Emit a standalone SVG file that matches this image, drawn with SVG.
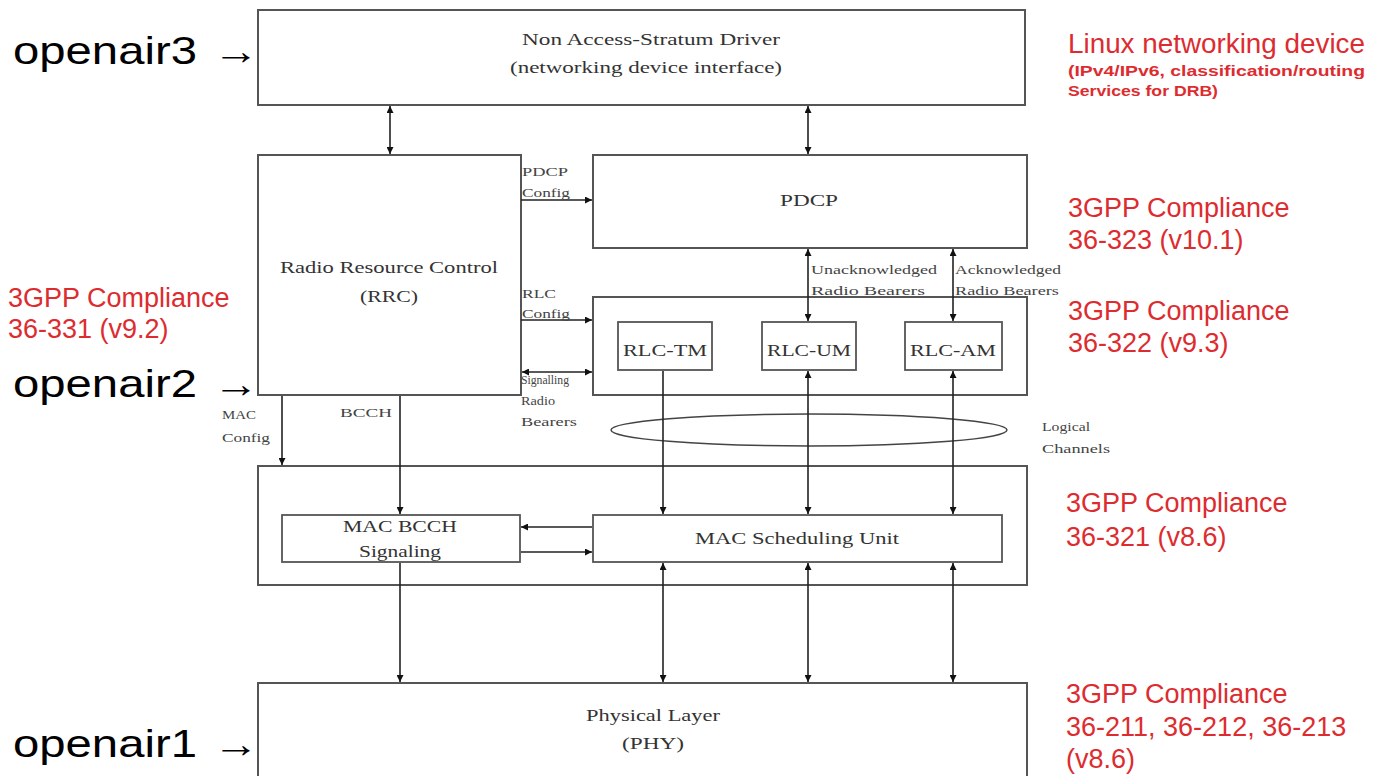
<svg xmlns="http://www.w3.org/2000/svg" width="1373" height="776" viewBox="0 0 1373 776">
<style>
.box{fill:#fff;stroke:#555;stroke-width:2}
.ibox{fill:#fff;stroke:#555;stroke-width:1.8}
.t{font-family:"Liberation Serif",serif;fill:#333;font-size:17px;text-anchor:middle}
.s{font-family:"Liberation Serif",serif;fill:#444;font-size:13.5px}
.c{stroke:#222;stroke-width:1.6;fill:none}
.red{font-family:"Liberation Sans",Arial,sans-serif;fill:#dd2c30;font-size:27px}
.redb{font-family:"Liberation Sans",Arial,sans-serif;fill:#dd2c30;font-size:15px;font-weight:bold}
.oa{font-family:"Liberation Sans",Arial,sans-serif;fill:#000;font-size:39px}
</style>
<defs>
<marker id="ah" viewBox="0 0 10 10" refX="10" refY="5" markerWidth="7" markerHeight="7" markerUnits="userSpaceOnUse" orient="auto-start-reverse">
<path d="M0,0 L10,5 L0,10 z" fill="#111"/>
</marker>
</defs>
<rect width="1373" height="776" fill="#fff"/>

<g id="nas">
<rect class="box" x="258" y="10" width="767" height="95"/>
<text class="t" x="651" y="45" textLength="258" lengthAdjust="spacingAndGlyphs">Non Access-Stratum Driver</text>
<text class="t" x="646" y="73" textLength="272" lengthAdjust="spacingAndGlyphs">(networking device interface)</text>
</g>
<g id="rrc">
<rect class="box" x="258" y="155" width="263" height="240"/>
<text class="t" x="389" y="273" textLength="218" lengthAdjust="spacingAndGlyphs">Radio Resource Control</text>
<text class="t" x="389" y="302" textLength="58" lengthAdjust="spacingAndGlyphs">(RRC)</text>
</g>
<g id="pdcp">
<rect class="box" x="593" y="155" width="434" height="93"/>
<text class="t" x="809" y="206" textLength="58" lengthAdjust="spacingAndGlyphs">PDCP</text>
</g>
<g id="rlc">
<rect class="box" x="593" y="297" width="434" height="98"/>
</g>
<g id="rlc-tm">
<rect class="ibox" x="618" y="322" width="94" height="48"/>
<text class="t" x="665" y="356" textLength="84" lengthAdjust="spacingAndGlyphs">RLC-TM</text>
</g>
<g id="rlc-um">
<rect class="ibox" x="762" y="322" width="94" height="48"/>
<text class="t" x="809" y="356" textLength="84" lengthAdjust="spacingAndGlyphs">RLC-UM</text>
</g>
<g id="rlc-am">
<rect class="ibox" x="905" y="322" width="97" height="48"/>
<text class="t" x="953" y="356" textLength="86" lengthAdjust="spacingAndGlyphs">RLC-AM</text>
</g>
<g id="mac">
<rect class="box" x="258" y="466" width="769" height="119"/>
</g>
<g id="mac-bcch">
<rect class="ibox" x="282" y="515" width="238" height="47"/>
<text class="t" x="400" y="532" textLength="114" lengthAdjust="spacingAndGlyphs">MAC BCCH</text>
<text class="t" x="400" y="557" textLength="82" lengthAdjust="spacingAndGlyphs">Signaling</text>
</g>
<g id="mac-sched">
<rect class="ibox" x="593" y="515" width="409" height="47"/>
<text class="t" x="797" y="544" textLength="204" lengthAdjust="spacingAndGlyphs">MAC Scheduling Unit</text>
</g>
<g id="phy">
<rect class="box" x="258" y="683" width="769" height="100"/>
<text class="t" x="653" y="721" textLength="134" lengthAdjust="spacingAndGlyphs">Physical Layer</text>
<text class="t" x="653" y="749" textLength="62" lengthAdjust="spacingAndGlyphs">(PHY)</text>
</g>
<g id="logical-channels">
<ellipse cx="809" cy="430" rx="198" ry="16" fill="none" stroke="#444" stroke-width="1.5"/>
</g>

<g id="connectors">
<line class="c" x1="390" y1="106" x2="390" y2="154" marker-start="url(#ah)" marker-end="url(#ah)"/>
<line class="c" x1="808" y1="106" x2="808" y2="154" marker-start="url(#ah)" marker-end="url(#ah)"/>
<line class="c" x1="521" y1="200" x2="592" y2="200" marker-end="url(#ah)"/>
<line class="c" x1="521" y1="320" x2="592" y2="320" marker-end="url(#ah)"/>
<line class="c" x1="522" y1="372" x2="592" y2="372" marker-start="url(#ah)" marker-end="url(#ah)"/>
<line class="c" x1="808" y1="249" x2="808" y2="321" marker-start="url(#ah)" marker-end="url(#ah)"/>
<line class="c" x1="953" y1="249" x2="953" y2="321" marker-start="url(#ah)" marker-end="url(#ah)"/>
<line class="c" x1="663" y1="371" x2="663" y2="514" marker-end="url(#ah)"/>
<line class="c" x1="808" y1="371" x2="808" y2="514" marker-start="url(#ah)" marker-end="url(#ah)"/>
<line class="c" x1="953" y1="371" x2="953" y2="514" marker-start="url(#ah)" marker-end="url(#ah)"/>
<line class="c" x1="282" y1="396" x2="282" y2="465" marker-end="url(#ah)"/>
<line class="c" x1="400" y1="396" x2="400" y2="514" marker-end="url(#ah)"/>
<line class="c" x1="592" y1="527" x2="521" y2="527" marker-end="url(#ah)"/>
<line class="c" x1="521" y1="552" x2="592" y2="552" marker-end="url(#ah)"/>
<line class="c" x1="400" y1="563" x2="400" y2="682" marker-end="url(#ah)"/>
<line class="c" x1="663" y1="563" x2="663" y2="682" marker-start="url(#ah)" marker-end="url(#ah)"/>
<line class="c" x1="808" y1="563" x2="808" y2="682" marker-start="url(#ah)" marker-end="url(#ah)"/>
<line class="c" x1="953" y1="563" x2="953" y2="682" marker-start="url(#ah)" marker-end="url(#ah)"/>
</g>

<g id="labels">
<text class="s" x="522" y="176" textLength="46" lengthAdjust="spacingAndGlyphs">PDCP</text>
<text class="s" x="522" y="197" textLength="48" lengthAdjust="spacingAndGlyphs">Config</text>
<text class="s" x="522" y="298" textLength="34" lengthAdjust="spacingAndGlyphs">RLC</text>
<text class="s" x="522" y="318" textLength="48" lengthAdjust="spacingAndGlyphs">Config</text>
<text class="s" x="521" y="384" textLength="48" lengthAdjust="spacingAndGlyphs">Signalling</text>
<text class="s" x="521" y="405" textLength="34" lengthAdjust="spacingAndGlyphs">Radio</text>
<text class="s" x="521" y="426" textLength="56" lengthAdjust="spacingAndGlyphs">Bearers</text>
<text class="s" x="811" y="274" textLength="126" lengthAdjust="spacingAndGlyphs">Unacknowledged</text>
<text class="s" x="811" y="295" textLength="114" lengthAdjust="spacingAndGlyphs">Radio Bearers</text>
<text class="s" x="955" y="274" textLength="106" lengthAdjust="spacingAndGlyphs">Acknowledged</text>
<text class="s" x="955" y="295" textLength="104" lengthAdjust="spacingAndGlyphs">Radio Bearers</text>
<text class="s" x="1042" y="431" textLength="48" lengthAdjust="spacingAndGlyphs">Logical</text>
<text class="s" x="1042" y="453" textLength="68" lengthAdjust="spacingAndGlyphs">Channels</text>
<text class="s" x="222" y="419" textLength="34" lengthAdjust="spacingAndGlyphs">MAC</text>
<text class="s" x="222" y="442" textLength="48" lengthAdjust="spacingAndGlyphs">Config</text>
<text class="s" x="340" y="417" textLength="52" lengthAdjust="spacingAndGlyphs">BCCH</text>

<text class="oa" x="13" y="64" textLength="184" lengthAdjust="spacingAndGlyphs">openair3</text>
<text class="oa" x="213" y="64" textLength="46" lengthAdjust="spacingAndGlyphs">→</text>
<text class="oa" x="13" y="397" textLength="184" lengthAdjust="spacingAndGlyphs">openair2</text>
<text class="oa" x="213" y="397" textLength="46" lengthAdjust="spacingAndGlyphs">→</text>
<text class="oa" x="13" y="757" textLength="184" lengthAdjust="spacingAndGlyphs">openair1</text>
<text class="oa" x="213" y="757" textLength="46" lengthAdjust="spacingAndGlyphs">→</text>

<text class="red" x="1068" y="53" textLength="297" lengthAdjust="spacingAndGlyphs">Linux networking device</text>
<text class="redb" x="1068" y="76" textLength="297" lengthAdjust="spacingAndGlyphs">(IPv4/IPv6, classification/routing</text>
<text class="redb" x="1068" y="96" textLength="150" lengthAdjust="spacingAndGlyphs">Services for DRB)</text>
<text class="red" x="1068" y="217">3GPP Compliance</text>
<text class="red" x="1068" y="249">36-323 (v10.1)</text>
<text class="red" x="1068" y="320">3GPP Compliance</text>
<text class="red" x="1068" y="352">36-322 (v9.3)</text>
<text class="red" x="8" y="307">3GPP Compliance</text>
<text class="red" x="8" y="338">36-331 (v9.2)</text>
<text class="red" x="1066" y="512">3GPP Compliance</text>
<text class="red" x="1066" y="546">36-321 (v8.6)</text>
<text class="red" x="1066" y="703">3GPP Compliance</text>
<text class="red" x="1066" y="736">36-211, 36-212, 36-213</text>
<text class="red" x="1066" y="768">(v8.6)</text>
</g>
</svg>
